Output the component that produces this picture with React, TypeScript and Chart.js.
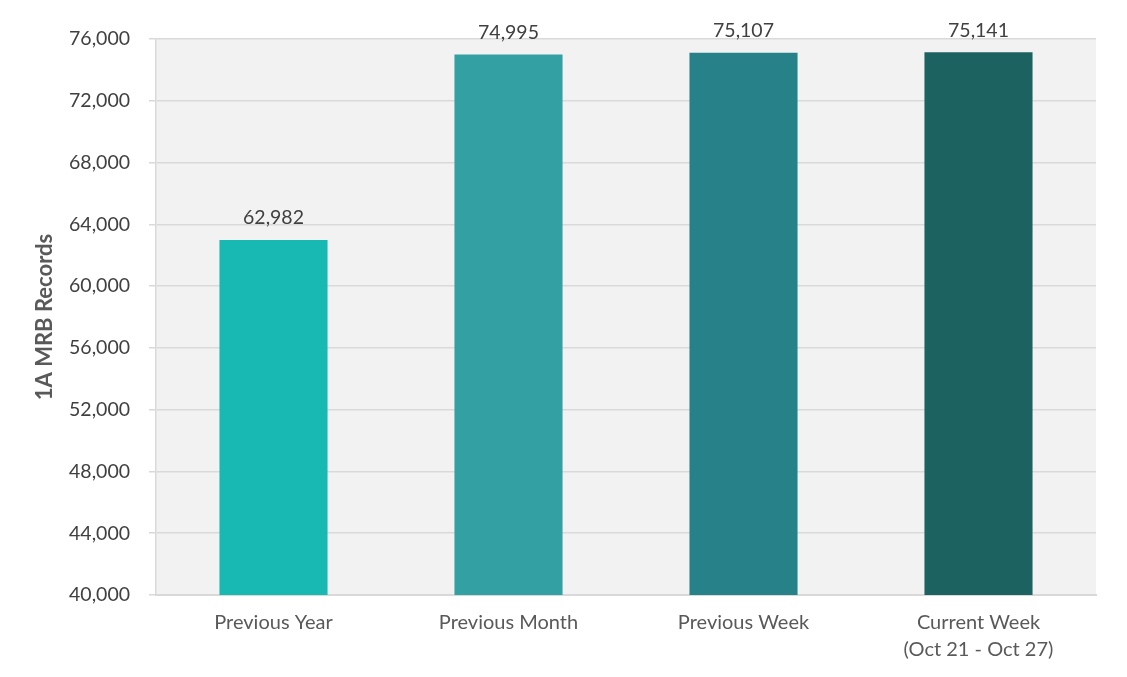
import React, { useEffect, useRef } from "react";
import { Chart, registerables } from "chart.js";

Chart.register(...registerables);

const categories: (string | string[])[] = [
  "Previous Year",
  "Previous Month",
  "Previous Week",
  ["Current Week", "(Oct 21 - Oct 27)"],
];
const recordValues = [62982, 74995, 75107, 75141];
const barColors = ["#17B9B2", "#33A0A3", "#278189", "#1C6260"];
const yTicks = [40000, 44000, 48000, 52000, 56000, 60000, 64000, 68000, 72000, 76000];

const FONT = "Lato, 'Open Sans', sans-serif";

const bgPlugin = {
  id: "plotBg",
  beforeDraw(chart: any) {
    const { ctx, chartArea } = chart;
    ctx.save();
    ctx.fillStyle = "#F2F2F2";
    ctx.fillRect(chartArea.left, chartArea.top, chartArea.right - chartArea.left, chartArea.bottom - chartArea.top);
    ctx.restore();
  },
};

const labelPlugin = {
  id: "barLabels",
  afterDatasetsDraw(chart: any) {
    const { ctx } = chart;
    const meta = chart.getDatasetMeta(0);
    const data = chart.data.datasets[0].data as number[];
    ctx.save();
    ctx.font = `19.5px ${FONT}`;
    ctx.fillStyle = "#404040";
    ctx.textAlign = "center";
    ctx.textBaseline = "middle";
    meta.data.forEach((el: any, i: number) => {
      ctx.fillText(data[i].toLocaleString("en-US"), el.x, el.y - 22);
    });
    ctx.restore();
  },
};

export default function App() {
  const ref = useRef<HTMLCanvasElement>(null);
  useEffect(() => {
    if (!ref.current) return;
    const chart = new Chart(ref.current, {
      type: "bar",
      data: {
        labels: categories,
        datasets: [
          {
            data: recordValues,
            backgroundColor: barColors,
            barPercentage: 0.92,
            categoryPercentage: 0.5,
          },
        ],
      },
      options: {
        animation: false,
        responsive: false,
        maintainAspectRatio: false,
        layout: { padding: { top: 39, right: 31, left: 0, bottom: 0 } },
        plugins: { legend: { display: false }, tooltip: { enabled: false } },
        scales: {
          x: {
            afterFit(scale: any) {
              scale.height = 82;
            },
            grid: { display: false, drawTicks: false },
            border: { display: true, color: "#D9D9D9", width: 2 },
            ticks: {
              color: "#595959",
              font: { family: FONT, size: 20, lineHeight: 1.35 },
              padding: 14,
              maxRotation: 0,
              autoSkip: false,
            },
          },
          y: {
            min: 40000,
            max: 76000,
            afterFit(scale: any) {
              scale.width = 156;
            },
            afterBuildTicks(scale: any) {
              scale.ticks = yTicks.map((v) => ({ value: v }));
            },
            grid: { color: "#D9D9D9", lineWidth: 1.5, tickLength: 7, drawTicks: true },
            border: { display: true, color: "#D9D9D9", width: 1.5 },
            ticks: {
              color: "#404040",
              font: { family: FONT, size: 19.5 },
              padding: 19,
              callback: (v: any) => Number(v).toLocaleString("en-US"),
            },
            title: {
              display: true,
              text: "1A MRB Records",
              color: "#595959",
              font: { family: FONT, size: 22, weight: "bold" },
              padding: { top: 32, bottom: 0 },
            },
          },
        },
      },
      plugins: [bgPlugin, labelPlugin],
    });
    return () => chart.destroy();
  }, []);
  return (
    <div style={{ position: "absolute", left: 0, top: 0, width: 1127, height: 677, background: "#fff" }}>
      <canvas ref={ref} width={1127} height={677} style={{ width: 1127, height: 677 }} />
    </div>
  );
}
